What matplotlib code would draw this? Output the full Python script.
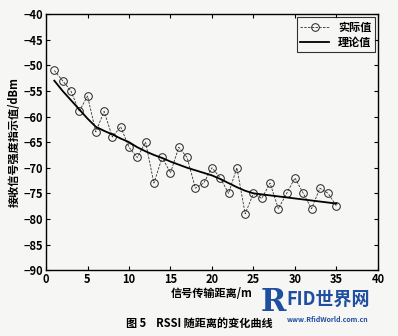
import matplotlib
matplotlib.use("Agg")
import matplotlib.pyplot as plt
from matplotlib.ticker import MultipleLocator

plt.rcParams['font.family'] = ['Noto Sans CJK SC', 'DejaVu Sans']

distance = list(range(1, 36))
actual = [-51, -53, -55, -59, -56, -63, -59, -64, -62, -66,
          -68, -65, -73, -68, -71, -66, -68, -74, -73, -70,
          -72, -75, -70, -79, -75, -76, -73, -78, -75, -72,
          -75, -78, -74, -75, -77.5]
theory = [-53, -55, -56.8, -58.6, -60.4, -62, -62.8, -63.5, -64.3, -65,
          -66, -66.8, -67.5, -68.1, -68.8, -69.4, -70, -70.5, -71, -71.5,
          -72.2, -73, -73.8, -74.5, -75, -75.2, -75.4, -75.6, -75.8, -76,
          -76.2, -76.4, -76.6, -76.8, -77]

bg = '#f6f6f4'
fig = plt.figure(figsize=(3.98, 3.36), dpi=100, facecolor=bg)
ax = fig.add_axes([0.1156, 0.196, 0.834, 0.762])
ax.set_facecolor(bg)

ax.plot(distance, actual, color='#333333', lw=0.6, ls=(0, (3, 1.5)),
        marker='o', markersize=5.5, markerfacecolor='none',
        markeredgecolor='#222222', markeredgewidth=0.7, label='实际值')
ax.plot(distance, theory, color='black', lw=1.3, label='理论值')

ax.set_xlim(0, 40)
ax.set_ylim(-90, -40)
ax.xaxis.set_major_locator(MultipleLocator(5))
ax.yaxis.set_major_locator(MultipleLocator(5))
ax.tick_params(direction='in', top=True, right=True, length=3, width=0.8,
               labelsize=8, pad=2)
for lab in ax.get_xticklabels() + ax.get_yticklabels():
    lab.set_fontweight('bold')
for s in ax.spines.values():
    s.set_linewidth(1.0)

ax.set_xlabel('信号传输距离/m', fontsize=8, fontweight='bold', labelpad=1)
ax.set_ylabel('接收信号强度指示值/dBm', fontsize=8, fontweight='bold', labelpad=2)

leg = ax.legend(loc='upper right', fontsize=8, frameon=True, fancybox=False,
                edgecolor='black', borderpad=0.3, handlelength=2.6,
                labelspacing=0.2, borderaxespad=0.3)
leg.get_frame().set_linewidth(0.8)
leg.get_frame().set_facecolor(bg)
for t in leg.get_texts():
    t.set_fontweight('bold')

fig.text(0.5, 0.035, '图 5    RSSI 随距离的变化曲线', ha='center', va='center',
         fontsize=8, fontweight='bold')
fig.text(0.655, 0.1, 'R', ha='left', va='center', fontsize=22,
         fontweight='bold', color='#1f4fa0', family='DejaVu Serif')
fig.text(0.72, 0.11, 'FID世界网', ha='left', va='center', fontsize=13,
         fontweight='bold', color='#1f4fa0')
fig.text(0.72, 0.05, 'www.RfidWorld.com.cn', ha='left', va='center',
         fontsize=5, fontweight='bold', color='#1f4fa0')

fig.savefig('out.png', dpi=100, facecolor=bg)
